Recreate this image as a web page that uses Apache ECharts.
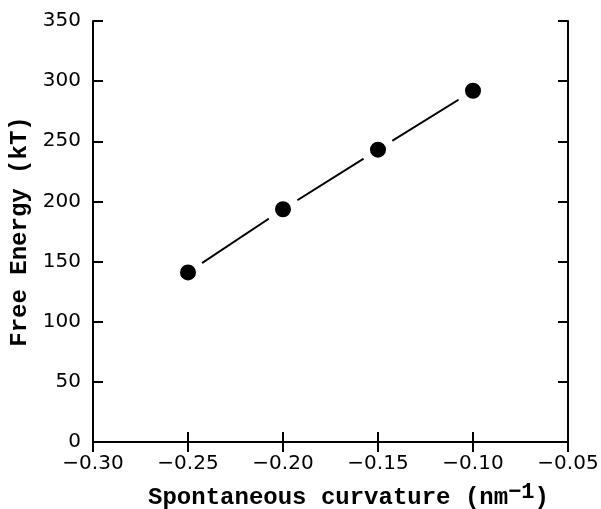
<!DOCTYPE html>
<html>
<head>
<meta charset="utf-8">
<script src="https://cdn.jsdelivr.net/npm/echarts@6/dist/echarts.min.js"></script>
<style>html,body{margin:0;padding:0;background:#fff;}#c{width:601px;height:509px;}</style>
</head>
<body>
<div id="c"></div>
<script>
var curvature = [-0.25, -0.20, -0.15, -0.10];
var freeEnergy = [141, 193.5, 243, 292];
var xTicks = [-0.30, -0.25, -0.20, -0.15, -0.10, -0.05];
var yTicks = [0, 50, 100, 150, 200, 250, 300, 350];

var chart = echarts.init(document.getElementById('c'), null, {renderer: 'canvas'});
var axisLine = {show: true, lineStyle: {color: '#000', width: 2}};
var axisTick = {show: true, inside: true, length: 10, lineStyle: {color: '#000', width: 2}};
var labelFont = {color: '#000', fontFamily: 'DejaVu Sans', fontSize: 20};
function fmtX(v) { return v.toFixed(2).replace('-', '\u2212'); }
chart.setOption({
  animation: false,
  backgroundColor: '#fff',
  grid: {left: 93, right: 33, top: 21, bottom: 67, outerBoundsMode: 'none', containLabel: false},
  xAxis: [{
    type: 'value', min: xTicks[0], max: xTicks[xTicks.length - 1], interval: 0.05,
    position: 'bottom',
    axisLine: axisLine, axisTick: axisTick, splitLine: {show: false},
    axisLabel: Object.assign({margin: 12, formatter: fmtX}, labelFont),
    name: '{a|Spontaneous curvature (nm}{s|\u22121}{a|)}',
    nameLocation: 'middle', nameGap: 39,
    nameTextStyle: {
      padding: [0, 0, 0, 36],
      rich: {
        a: {fontFamily: 'Liberation Mono', fontWeight: 'bold', fontSize: 24, color: '#000'},
        s: {fontFamily: 'Liberation Mono', fontWeight: 'bold', fontSize: 22, color: '#000', padding: [0, 0, 12, 0]}
      }
    }
  }, {
    type: 'value', min: xTicks[0], max: xTicks[xTicks.length - 1], interval: 0.05,
    position: 'top',
    axisLine: axisLine, axisTick: axisTick, splitLine: {show: false}, axisLabel: {show: false}
  }],
  yAxis: [{
    type: 'value', min: yTicks[0], max: yTicks[yTicks.length - 1], interval: 50,
    position: 'left',
    axisLine: axisLine, axisTick: axisTick, splitLine: {show: false},
    axisLabel: Object.assign({margin: 12}, labelFont),
    name: 'Free Energy (kT)', nameLocation: 'middle', nameGap: 61,
    nameTextStyle: {fontFamily: 'Liberation Mono', fontWeight: 'bold', fontSize: 24, color: '#000'}
  }, {
    type: 'value', min: yTicks[0], max: yTicks[yTicks.length - 1], interval: 50,
    position: 'right',
    axisLine: axisLine, axisTick: axisTick, splitLine: {show: false}, axisLabel: {show: false}
  }],
  series: [{
    type: 'line',
    data: curvature.map(function (x, i) { return [x, freeEnergy[i]]; }),
    lineStyle: {color: '#000', width: 2},
    symbol: 'circle', symbolSize: 25,
    itemStyle: {color: '#000', borderColor: '#fff', borderWidth: 9},
    emphasis: {disabled: true}
  }]
});
</script>
</body>
</html>
